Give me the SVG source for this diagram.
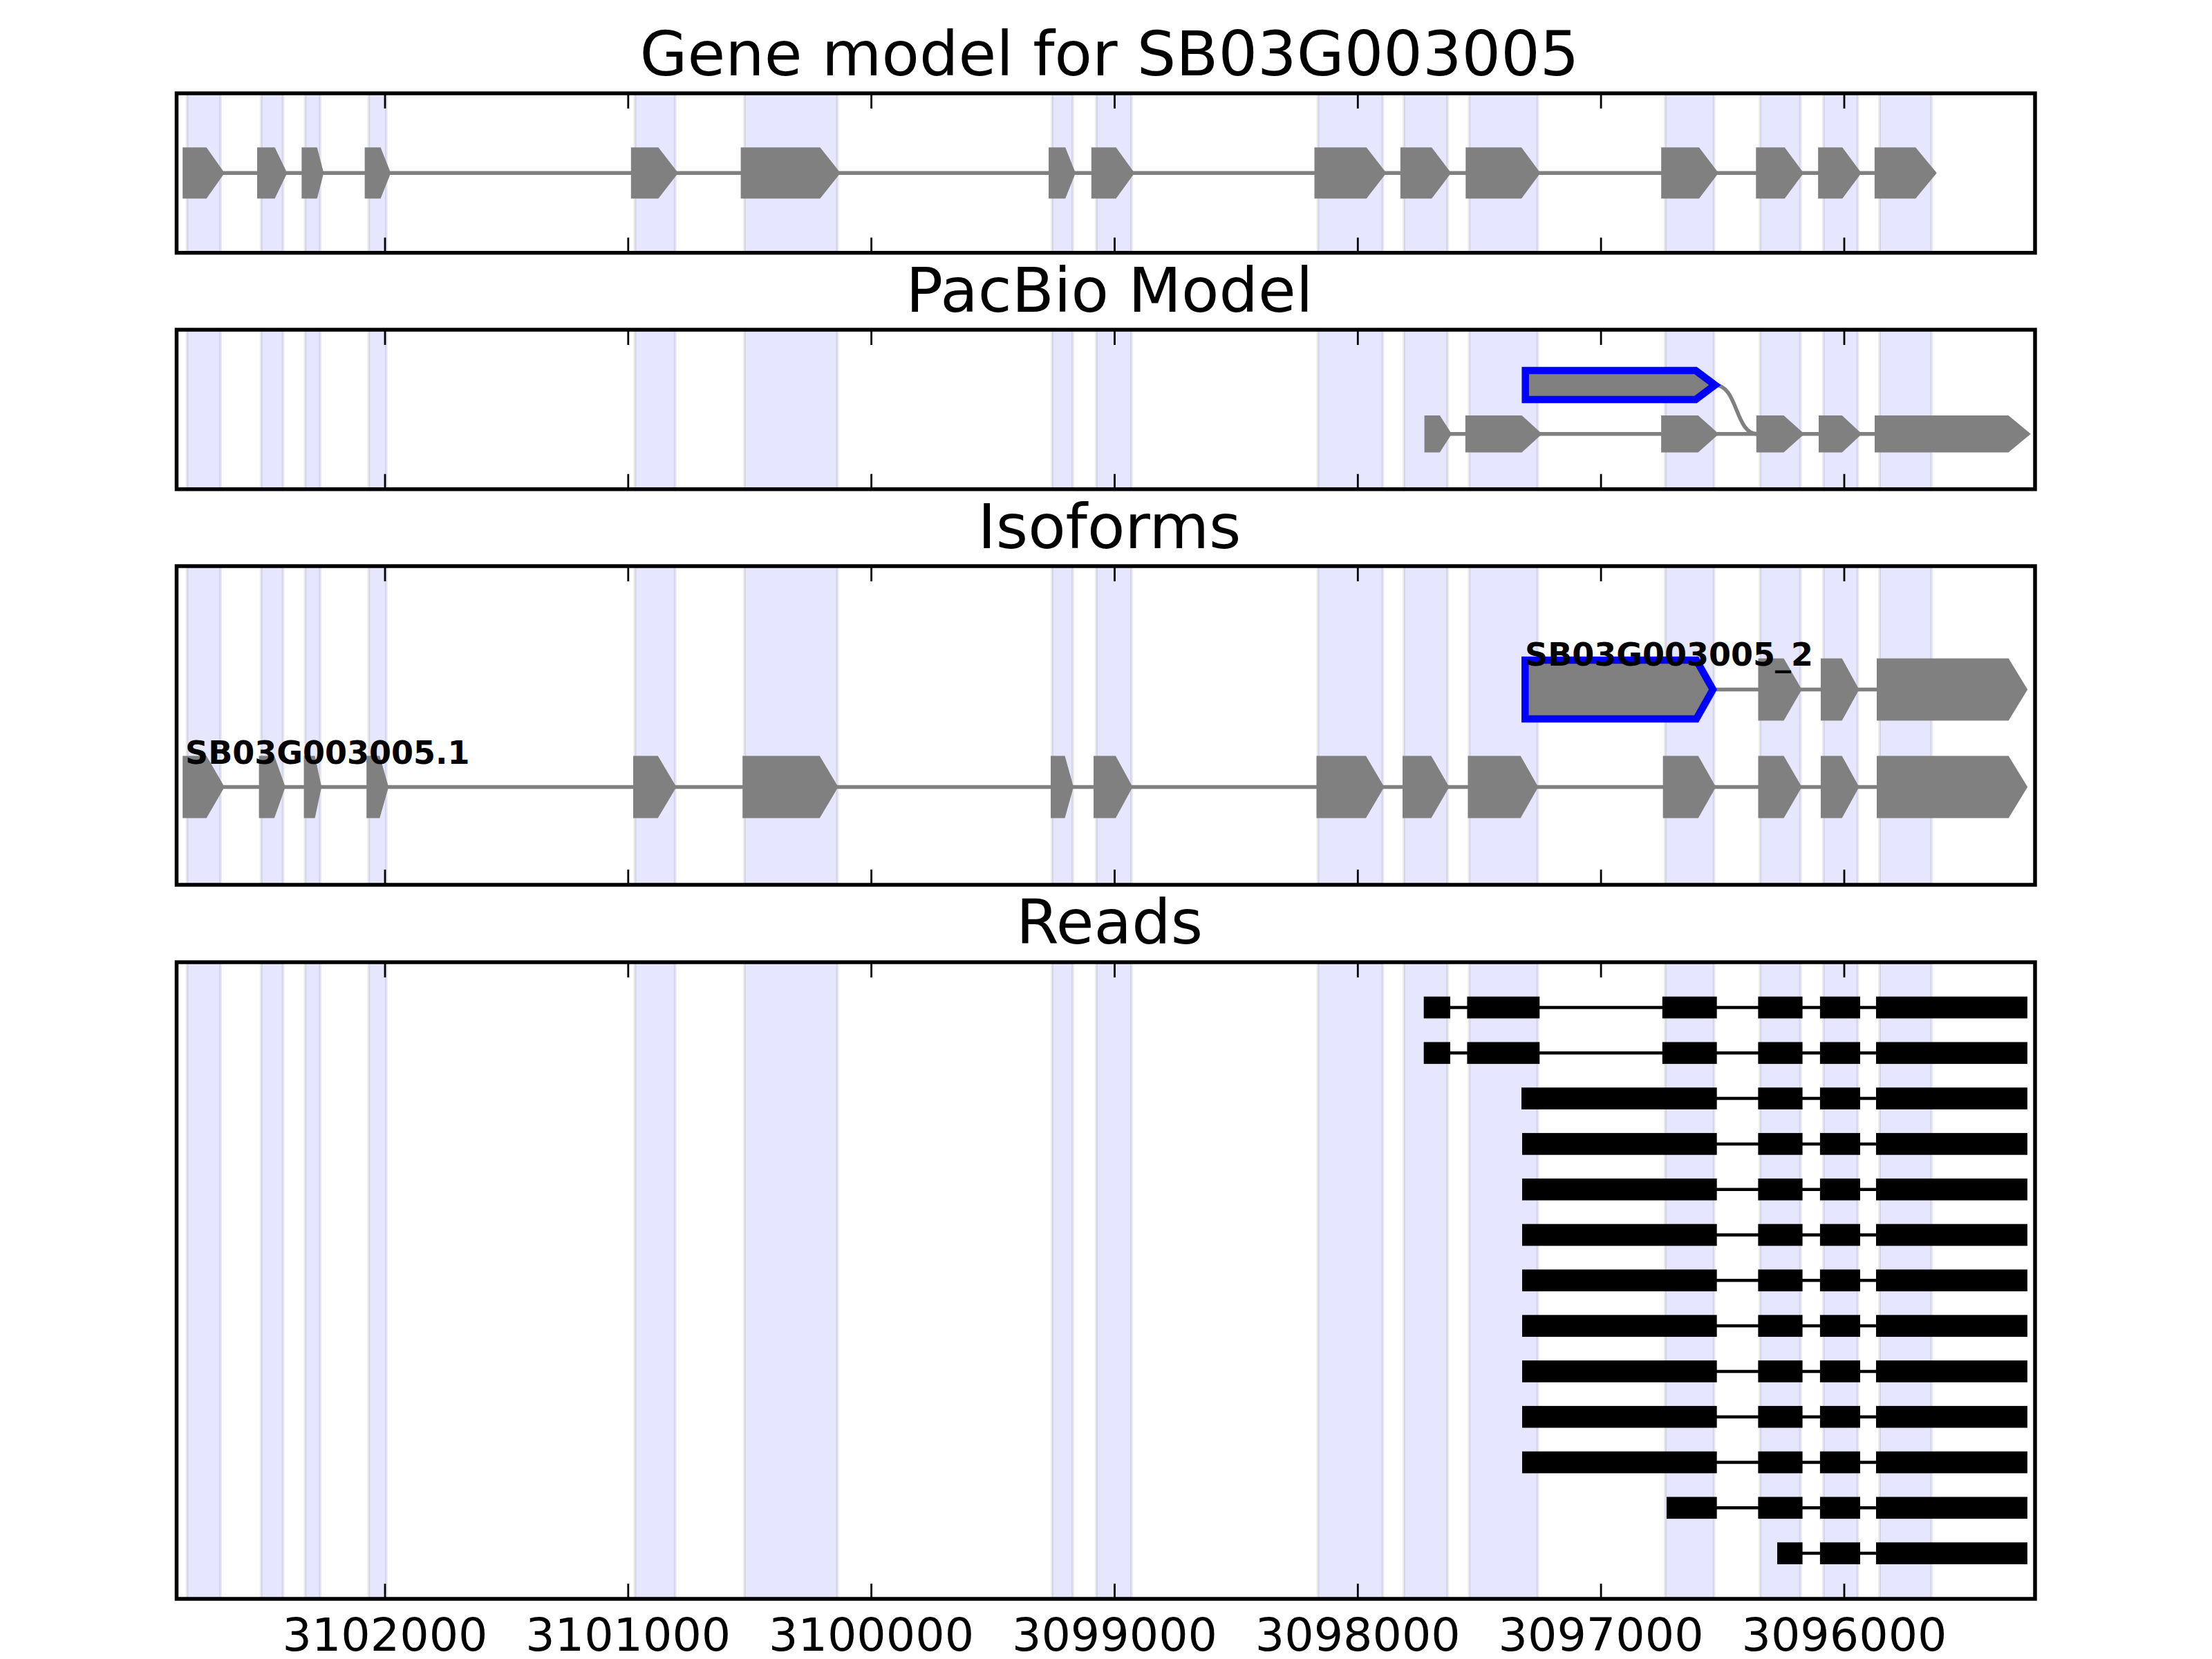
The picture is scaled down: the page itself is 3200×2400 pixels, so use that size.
<svg xmlns="http://www.w3.org/2000/svg" xmlns:xlink="http://www.w3.org/1999/xlink" width="3200" height="2400" viewBox="0 0 3200 2400">
<style>
text{font-family:"DejaVu Sans","Liberation Sans",sans-serif;fill:#000}
.title{font-size:89px;text-anchor:middle}
.tick{font-size:66.7px;text-anchor:middle}
.lab{font-size:46px;font-weight:bold}
.shade{fill:#e6e6ff;stroke:#000;stroke-opacity:0.08;stroke-width:4}
.exon{fill:#808080;stroke:none}
.sel{fill:#808080;stroke:#0000ff;stroke-width:10.5;stroke-miterlimit:10}
.intron{stroke:#808080;stroke-width:5.5;fill:none}
.rintron{stroke:#000;stroke-width:4.5;fill:none}
.read{fill:#000}
.frame{fill:none;stroke:#000;stroke-width:5.5}
.tk{stroke:#000;stroke-width:2.8}
</style>
<defs>
<g id="shades">
<rect class="shade" x="270.6" y="0" width="48.5" height="1" vector-effect="non-scaling-stroke"/>
<rect class="shade" x="377.8" y="0" width="31.8" height="1" vector-effect="non-scaling-stroke"/>
<rect class="shade" x="441.5" y="0" width="21.7" height="1" vector-effect="non-scaling-stroke"/>
<rect class="shade" x="533.4" y="0" width="25.5" height="1" vector-effect="non-scaling-stroke"/>
<rect class="shade" x="918.5" y="0" width="58.3" height="1" vector-effect="non-scaling-stroke"/>
<rect class="shade" x="1077" y="0" width="134.5" height="1" vector-effect="non-scaling-stroke"/>
<rect class="shade" x="1522" y="0" width="30" height="1" vector-effect="non-scaling-stroke"/>
<rect class="shade" x="1586" y="0" width="51" height="1" vector-effect="non-scaling-stroke"/>
<rect class="shade" x="1906.6" y="0" width="93.8" height="1" vector-effect="non-scaling-stroke"/>
<rect class="shade" x="2031" y="0" width="63.2" height="1" vector-effect="non-scaling-stroke"/>
<rect class="shade" x="2125.5" y="0" width="99.1" height="1" vector-effect="non-scaling-stroke"/>
<rect class="shade" x="2409" y="0" width="70.7" height="1" vector-effect="non-scaling-stroke"/>
<rect class="shade" x="2546.3" y="0" width="58.4" height="1" vector-effect="non-scaling-stroke"/>
<rect class="shade" x="2637.9" y="0" width="49.7" height="1" vector-effect="non-scaling-stroke"/>
<rect class="shade" x="2719" y="0" width="75.3" height="1" vector-effect="non-scaling-stroke"/>
</g>
<g id="ticks">
<line class="tk" x1="557" y1="0" x2="557" y2="22"/>
<line class="tk" x1="908.8" y1="0" x2="908.8" y2="22"/>
<line class="tk" x1="1260.6" y1="0" x2="1260.6" y2="22"/>
<line class="tk" x1="1612.5" y1="0" x2="1612.5" y2="22"/>
<line class="tk" x1="1964.3" y1="0" x2="1964.3" y2="22"/>
<line class="tk" x1="2316.1" y1="0" x2="2316.1" y2="22"/>
<line class="tk" x1="2668" y1="0" x2="2668" y2="22"/>
</g>
</defs>
<rect x="0" y="0" width="3200" height="2400" fill="#fff"/>

<g id="shading">
<use xlink:href="#shades" transform="translate(0,135) scale(1,230.7)"/>
<use xlink:href="#shades" transform="translate(0,477) scale(1,230.7)"/>
<use xlink:href="#shades" transform="translate(0,819) scale(1,461)"/>
<use xlink:href="#shades" transform="translate(0,1392) scale(1,921)"/>
</g>

<g id="connectors">
<line class="intron" x1="266" y1="250.3" x2="2800" y2="250.3"/>
<line class="intron" x1="2062" y1="627.7" x2="2935" y2="627.7"/>
<path class="intron" d="M2481,557 C2514,557 2510,627.7 2542,627.7"/>
<line class="intron" x1="2478" y1="997.5" x2="2930" y2="997.5"/>
<line class="intron" x1="266" y1="1138.5" x2="2930" y2="1138.5"/>
<g id="read-introns">
<line class="rintron" x1="2080" y1="1457.5" x2="2900" y2="1457.5"/>
<line class="rintron" x1="2080" y1="1523.3" x2="2900" y2="1523.3"/>
<line class="rintron" x1="2300" y1="1589.1" x2="2900" y2="1589.1"/>
<line class="rintron" x1="2300" y1="1654.9" x2="2900" y2="1654.9"/>
<line class="rintron" x1="2300" y1="1720.7" x2="2900" y2="1720.7"/>
<line class="rintron" x1="2300" y1="1786.5" x2="2900" y2="1786.5"/>
<line class="rintron" x1="2300" y1="1852.3" x2="2900" y2="1852.3"/>
<line class="rintron" x1="2300" y1="1918.1" x2="2900" y2="1918.1"/>
<line class="rintron" x1="2300" y1="1983.9" x2="2900" y2="1983.9"/>
<line class="rintron" x1="2300" y1="2049.7" x2="2900" y2="2049.7"/>
<line class="rintron" x1="2300" y1="2115.5" x2="2900" y2="2115.5"/>
<line class="rintron" x1="2440" y1="2181.3" x2="2900" y2="2181.3"/>
<line class="rintron" x1="2590" y1="2247.1" x2="2900" y2="2247.1"/>
</g>
</g>

<g id="gene-model">
<polygon class="exon" points="264.2,213.3 298.7,213.3 324.8,250.3 298.7,287.3 264.2,287.3"/>
<polygon class="exon" points="372,213.3 397.5,213.3 415.4,250.3 397.5,287.3 372,287.3"/>
<polygon class="exon" points="436.4,213.3 458.7,213.3 468.3,250.3 458.7,287.3 436.4,287.3"/>
<polygon class="exon" points="527.6,213.3 550.6,213.3 565.3,250.3 550.6,287.3 527.6,287.3"/>
<polygon class="exon" points="912.8,213.3 952.4,213.3 981.1,250.3 952.4,287.3 912.8,287.3"/>
<polygon class="exon" points="1071.6,213.3 1186.4,213.3 1215.8,250.3 1186.4,287.3 1071.6,287.3"/>
<polygon class="exon" points="1517,213.3 1541.2,213.3 1555.9,250.3 1541.2,287.3 1517,287.3"/>
<polygon class="exon" points="1578.8,213.3 1614.5,213.3 1641.3,250.3 1614.5,287.3 1578.8,287.3"/>
<polygon class="exon" points="1901.5,213.3 1976.8,213.3 2005.5,250.3 1976.8,287.3 1901.5,287.3"/>
<polygon class="exon" points="2025.9,213.3 2071.2,213.3 2099.2,250.3 2071.2,287.3 2025.9,287.3"/>
<polygon class="exon" points="2120.3,213.3 2201,213.3 2228.4,250.3 2201,287.3 2120.3,287.3"/>
<polygon class="exon" points="2403.2,213.3 2458,213.3 2486.1,250.3 2458,287.3 2403.2,287.3"/>
<polygon class="exon" points="2540.3,213.3 2581.8,213.3 2609.2,250.3 2581.8,287.3 2540.3,287.3"/>
<polygon class="exon" points="2630.2,213.3 2665.3,213.3 2692.7,250.3 2665.3,287.3 2630.2,287.3"/>
<polygon class="exon" points="2711.9,213.3 2771.2,213.3 2801.8,250.3 2771.2,287.3 2711.9,287.3"/>
</g>

<g id="pacbio-model">
<g id="pacbio-selected">
<polygon class="sel" points="2206.7,536 2453,536 2481,557 2453,578 2206.7,578"/>
</g>
<g id="pacbio-main">
<polygon class="exon" points="2060.6,601 2082.9,601 2100.1,627.7 2082.9,654.4 2060.6,654.4"/>
<polygon class="exon" points="2119.9,601 2201.5,601 2230.9,627.7 2201.5,654.4 2119.9,654.4"/>
<polygon class="exon" points="2403.1,601 2456.6,601 2486.6,627.7 2456.6,654.4 2403.1,654.4"/>
<polygon class="exon" points="2540.8,601 2580.4,601 2610.3,627.7 2580.4,654.4 2540.8,654.4"/>
<polygon class="exon" points="2631,601 2664.8,601 2693.5,627.7 2664.8,654.4 2631,654.4"/>
<polygon class="exon" points="2712,601 2905.5,601 2937.8,627.7 2905.5,654.4 2712,654.4"/>
</g>
</g>

<g id="isoform-2">
<polygon class="sel" points="2206.3,955 2454,955 2478,997.5 2454,1040 2206.3,1040"/>
<polygon class="exon" points="2543.5,952.5 2580.5,952.5 2606.6,997.5 2580.5,1042.5 2543.5,1042.5"/>
<polygon class="exon" points="2634,952.5 2664.7,952.5 2689.5,997.5 2664.7,1042.5 2634,1042.5"/>
<polygon class="exon" points="2715,952.5 2905.7,952.5 2933.2,997.5 2905.7,1042.5 2715,1042.5"/>
</g>

<g id="isoform-1">
<polygon class="exon" points="264.2,1093.5 298.7,1093.5 324.8,1138.5 298.7,1183.5 264.2,1183.5"/>
<polygon class="exon" points="374.6,1093.5 396.9,1093.5 412.8,1138.5 396.9,1183.5 374.6,1183.5"/>
<polygon class="exon" points="439.6,1093.5 455.6,1093.5 465.1,1138.5 455.6,1183.5 439.6,1183.5"/>
<polygon class="exon" points="530.2,1093.5 549.3,1093.5 562.1,1138.5 549.3,1183.5 530.2,1183.5"/>
<polygon class="exon" points="916,1093.5 951.7,1093.5 978.5,1138.5 951.7,1183.5 916,1183.5"/>
<polygon class="exon" points="1074.2,1093.5 1185.8,1093.5 1212.6,1138.5 1185.8,1183.5 1074.2,1183.5"/>
<polygon class="exon" points="1520,1093.5 1540.5,1093.5 1553,1138.5 1540.5,1183.5 1520,1183.5"/>
<polygon class="exon" points="1582,1093.5 1614,1093.5 1638.5,1138.5 1614,1183.5 1582,1183.5"/>
<polygon class="exon" points="1904.5,1093.5 1976,1093.5 2002.5,1138.5 1976,1183.5 1904.5,1183.5"/>
<polygon class="exon" points="2029,1093.5 2070.5,1093.5 2096.5,1138.5 2070.5,1183.5 2029,1183.5"/>
<polygon class="exon" points="2123.5,1093.5 2199.7,1093.5 2225.3,1138.5 2199.7,1183.5 2123.5,1183.5"/>
<polygon class="exon" points="2405.7,1093.5 2456.8,1093.5 2482.3,1138.5 2456.8,1183.5 2405.7,1183.5"/>
<polygon class="exon" points="2543.5,1093.5 2580.5,1093.5 2606.6,1138.5 2580.5,1183.5 2543.5,1183.5"/>
<polygon class="exon" points="2634,1093.5 2664.7,1093.5 2689.5,1138.5 2664.7,1183.5 2634,1183.5"/>
<polygon class="exon" points="2715,1093.5 2905.7,1093.5 2933.2,1138.5 2905.7,1183.5 2715,1183.5"/>
</g>

<g id="isoform-labels">
<text class="lab" x="2206" y="963">SB03G003005_2</text>
<text class="lab" x="268" y="1105">SB03G003005.1</text>
</g>

<g id="reads">
<g id="read-a"><rect class="read" x="2059.7" y="1441.7" width="38.3" height="31.6"/><rect class="read" x="2122.4" y="1441.7" width="104.9" height="31.6"/><rect class="read" x="2404.8" y="1441.7" width="78.9" height="31.6"/><rect class="read" x="2543.4" y="1441.7" width="64.2" height="31.6"/><rect class="read" x="2632.9" y="1441.7" width="58.1" height="31.6"/><rect class="read" x="2714" y="1441.7" width="218.9" height="31.6"/></g>
<g id="read-b"><rect class="read" x="2059.7" y="1507.5" width="38.3" height="31.6"/><rect class="read" x="2122.4" y="1507.5" width="104.9" height="31.6"/><rect class="read" x="2404.8" y="1507.5" width="78.9" height="31.6"/><rect class="read" x="2543.4" y="1507.5" width="64.2" height="31.6"/><rect class="read" x="2632.9" y="1507.5" width="58.1" height="31.6"/><rect class="read" x="2714" y="1507.5" width="218.9" height="31.6"/></g>
<g id="read-c"><rect class="read" x="2201" y="1573.3" width="282.7" height="31.6"/><rect class="read" x="2543.4" y="1573.3" width="64.2" height="31.6"/><rect class="read" x="2632.9" y="1573.3" width="58.1" height="31.6"/><rect class="read" x="2714" y="1573.3" width="218.9" height="31.6"/></g>
<g id="read-d"><rect class="read" x="2202" y="1639.1" width="281.7" height="31.6"/><rect class="read" x="2543.4" y="1639.1" width="64.2" height="31.6"/><rect class="read" x="2632.9" y="1639.1" width="58.1" height="31.6"/><rect class="read" x="2714" y="1639.1" width="218.9" height="31.6"/></g>
<g id="read-e"><rect class="read" x="2202" y="1704.9" width="281.7" height="31.6"/><rect class="read" x="2543.4" y="1704.9" width="64.2" height="31.6"/><rect class="read" x="2632.9" y="1704.9" width="58.1" height="31.6"/><rect class="read" x="2714" y="1704.9" width="218.9" height="31.6"/></g>
<g id="read-f"><rect class="read" x="2202" y="1770.7" width="281.7" height="31.6"/><rect class="read" x="2543.4" y="1770.7" width="64.2" height="31.6"/><rect class="read" x="2632.9" y="1770.7" width="58.1" height="31.6"/><rect class="read" x="2714" y="1770.7" width="218.9" height="31.6"/></g>
<g id="read-g"><rect class="read" x="2202" y="1836.5" width="281.7" height="31.6"/><rect class="read" x="2543.4" y="1836.5" width="64.2" height="31.6"/><rect class="read" x="2632.9" y="1836.5" width="58.1" height="31.6"/><rect class="read" x="2714" y="1836.5" width="218.9" height="31.6"/></g>
<g id="read-h"><rect class="read" x="2202" y="1902.3" width="281.7" height="31.6"/><rect class="read" x="2543.4" y="1902.3" width="64.2" height="31.6"/><rect class="read" x="2632.9" y="1902.3" width="58.1" height="31.6"/><rect class="read" x="2714" y="1902.3" width="218.9" height="31.6"/></g>
<g id="read-i"><rect class="read" x="2202" y="1968.1" width="281.7" height="31.6"/><rect class="read" x="2543.4" y="1968.1" width="64.2" height="31.6"/><rect class="read" x="2632.9" y="1968.1" width="58.1" height="31.6"/><rect class="read" x="2714" y="1968.1" width="218.9" height="31.6"/></g>
<g id="read-j"><rect class="read" x="2202" y="2033.9" width="281.7" height="31.6"/><rect class="read" x="2543.4" y="2033.9" width="64.2" height="31.6"/><rect class="read" x="2632.9" y="2033.9" width="58.1" height="31.6"/><rect class="read" x="2714" y="2033.9" width="218.9" height="31.6"/></g>
<g id="read-k"><rect class="read" x="2202" y="2099.7" width="281.7" height="31.6"/><rect class="read" x="2543.4" y="2099.7" width="64.2" height="31.6"/><rect class="read" x="2632.9" y="2099.7" width="58.1" height="31.6"/><rect class="read" x="2714" y="2099.7" width="218.9" height="31.6"/></g>
<g id="read-l"><rect class="read" x="2411" y="2165.5" width="72.7" height="31.6"/><rect class="read" x="2543.4" y="2165.5" width="64.2" height="31.6"/><rect class="read" x="2632.9" y="2165.5" width="58.1" height="31.6"/><rect class="read" x="2714" y="2165.5" width="218.9" height="31.6"/></g>
<g id="read-m"><rect class="read" x="2571" y="2231.3" width="36.6" height="31.6"/><rect class="read" x="2632.9" y="2231.3" width="58.1" height="31.6"/><rect class="read" x="2714" y="2231.3" width="218.9" height="31.6"/></g>
</g>

<g id="axes">
<rect class="frame" x="255.5" y="135" width="2688.5" height="230.7"/>
<rect class="frame" x="255.5" y="477" width="2688.5" height="230.7"/>
<rect class="frame" x="255.5" y="819" width="2688.5" height="461"/>
<rect class="frame" x="255.5" y="1392" width="2688.5" height="921"/>
<use xlink:href="#ticks" transform="translate(0,135)"/>
<use xlink:href="#ticks" transform="translate(0,365.7) scale(1,-1)"/>
<use xlink:href="#ticks" transform="translate(0,477)"/>
<use xlink:href="#ticks" transform="translate(0,707.7) scale(1,-1)"/>
<use xlink:href="#ticks" transform="translate(0,819)"/>
<use xlink:href="#ticks" transform="translate(0,1280) scale(1,-1)"/>
<use xlink:href="#ticks" transform="translate(0,1392)"/>
<use xlink:href="#ticks" transform="translate(0,2313) scale(1,-1)"/>
</g>

<g id="titles">
<text class="title" x="1605" y="109">Gene model for SB03G003005</text>
<text class="title" x="1605" y="451">PacBio Model</text>
<text class="title" x="1605" y="793">Isoforms</text>
<text class="title" x="1605" y="1365">Reads</text>
</g>

<g id="tick-labels">
<text class="tick" x="557" y="2388">3102000</text>
<text class="tick" x="908.8" y="2388">3101000</text>
<text class="tick" x="1260.6" y="2388">3100000</text>
<text class="tick" x="1612.5" y="2388">3099000</text>
<text class="tick" x="1964.3" y="2388">3098000</text>
<text class="tick" x="2316.1" y="2388">3097000</text>
<text class="tick" x="2668" y="2388">3096000</text>
</g>
</svg>
